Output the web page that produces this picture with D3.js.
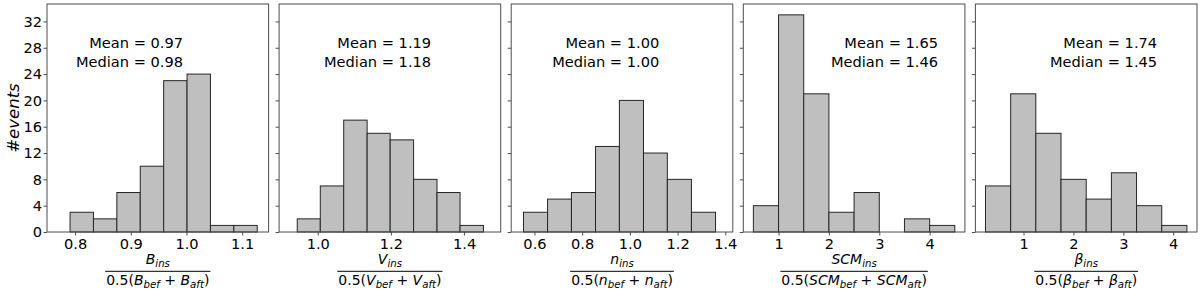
<!DOCTYPE html>
<html lang="en">
<head>
<meta charset="UTF-8">
<script src="https://d3js.org/d3.v7.min.js"></script>
<style>
  html, body { margin: 0; padding: 0; background: #fff; }
  svg { display: block; font-family: "DejaVu Sans", sans-serif; }
</style>
</head>
<body>
<svg id="chart" width="1200" height="293"></svg>
<script>
// histogram counts per panel (8 bins, 70 events each)
const symbols = ['B', 'V', 'n', 'SCM', 'β'];
const counts = [
  [3, 2, 6, 10, 23, 24, 1, 1],
  [2, 7, 17, 15, 14, 8, 6, 1],
  [3, 5, 6, 13, 20, 12, 8, 3],
  [4, 33, 21, 3, 6, 0, 2, 1],
  [7, 21, 15, 8, 5, 9, 4, 1]
];
const binEdges = [
  [0.791, 0.833, 0.875, 0.917, 0.959, 1.001, 1.043, 1.085, 1.127],
  [0.944, 1.007, 1.071, 1.135, 1.198, 1.262, 1.326, 1.389, 1.453],
  [0.554, 0.655, 0.755, 0.856, 0.956, 1.057, 1.157, 1.258, 1.359],
  [0.5, 1.0, 1.5, 2.0, 2.5, 3.0, 3.5, 4.0, 4.5],
  [0.237, 0.742, 1.246, 1.751, 2.256, 2.761, 3.265, 3.770, 4.275]
];
const xDomains = [[0.7496, 1.1474], [0.8944, 1.5001], [0.5025, 1.4314], [0.3, 4.7], [0.035, 4.477]];
const xTicks = [[0.8, 0.9, 1.0, 1.1], [1.0, 1.2, 1.4], [0.6, 0.8, 1.0, 1.2, 1.4], [1, 2, 3, 4], [1, 2, 3, 4]];
const xFormats = ['.1f', '.1f', '.1f', 'd', 'd'];
const means = [0.97, 1.19, 1.00, 1.65, 1.74];
const medians = [0.98, 1.18, 1.00, 1.46, 1.45];
const yTicks = [0, 4, 8, 12, 16, 20, 24, 28, 32];

// layout
const padLeft = 47, padTop = 4, axisBottom = 232;
const panelW = 221.6, gap = 10.5;
const fs = 14.6, subFs = 10.2;
const statX = [0.614, 0.686, 0.668, 0.879, 0.82]; // right edge of stats text, axes fraction

const svg = d3.select('#chart');
const y = d3.scaleLinear().domain([0, 34.65]).range([axisBottom, padTop]);

// y label
svg.append('text')
  .attr('transform', `translate(19,${(padTop + axisBottom) / 2}) rotate(-90)`)
  .attr('text-anchor', 'middle')
  .attr('font-size', 16.5)
  .attr('font-style', 'italic')
  .text('#events');

function addMath(sel, parts) {
  parts.forEach(p => {
    const t = sel.append('tspan').text(p.t);
    if (p.it) t.attr('font-style', 'italic');
    if (p.sub) t.attr('font-size', subFs).attr('dy', 3.2);
    if (p.up) t.attr('dy', -3.2);
  });
}

symbols.forEach((sym, i) => {
  const x0 = padLeft + i * (panelW + gap);
  const x = d3.scaleLinear().domain(xDomains[i]).range([x0, x0 + panelW]);
  const g = svg.append('g');

  const bins = counts[i].map((c, k) => ({ c, a: binEdges[i][k], b: binEdges[i][k + 1] }));
  g.selectAll('rect').data(bins).enter().append('rect')
    .attr('x', d => x(d.a))
    .attr('width', d => x(d.b) - x(d.a))
    .attr('y', d => y(d.c))
    .attr('height', d => y(0) - y(d.c))
    .attr('fill', '#bfbfbf')
    .attr('stroke', '#262626')
    .attr('stroke-width', 1);

  // frame
  g.append('rect')
    .attr('x', x0).attr('y', padTop)
    .attr('width', panelW).attr('height', axisBottom - padTop)
    .attr('fill', 'none').attr('stroke', '#4d4d4d').attr('stroke-width', 1);

  // axes
  const xa = g.append('g').attr('transform', `translate(0,${axisBottom})`)
    .call(d3.axisBottom(x).tickValues(xTicks[i]).tickFormat(d3.format(xFormats[i])).tickSize(3.5).tickPadding(2.8));
  const ya = g.append('g').attr('transform', `translate(${x0},0)`)
    .call(d3.axisLeft(y).tickValues(yTicks).tickSize(3.5).tickPadding(1.5)
      .tickFormat(i === 0 ? d3.format('d') : () => ''));
  [xa, ya].forEach(a => {
    a.select('.domain').remove();
    a.selectAll('line').attr('stroke', '#4d4d4d');
    a.selectAll('text').attr('font-size', fs).attr('fill', '#000')
      .attr('font-family', '"DejaVu Sans", sans-serif');
  });

  // stats
  const sx = x0 + statX[i] * panelW;
  g.append('text').attr('x', sx).attr('y', 48).attr('text-anchor', 'end')
    .attr('font-size', fs).text(`Mean = ${means[i].toFixed(2)}`);
  g.append('text').attr('x', sx).attr('y', 67).attr('text-anchor', 'end')
    .attr('font-size', fs).text(`Median = ${medians[i].toFixed(2)}`);

  // x label as fraction
  const cx = x0 + panelW / 2;
  const num = g.append('text').attr('x', cx).attr('y', 264)
    .attr('text-anchor', 'middle').attr('font-size', 14);
  addMath(num, [{ t: sym, it: true }, { t: 'ins', it: true, sub: true }]);
  const den = g.append('text').attr('x', cx).attr('y', 285)
    .attr('text-anchor', 'middle').attr('font-size', 14);
  addMath(den, [
    { t: '0.5(' }, { t: sym, it: true }, { t: 'bef', it: true, sub: true },
    { t: ' + ', up: true }, { t: sym, it: true }, { t: 'aft', it: true, sub: true },
    { t: ')', up: true }
  ]);
  const w = den.node().getComputedTextLength();
  g.append('line')
    .attr('x1', cx - w / 2 - 1).attr('x2', cx + w / 2 + 1)
    .attr('y1', 271.3).attr('y2', 271.3)
    .attr('stroke', '#000').attr('stroke-width', 1);
});
</script>
</body>
</html>
